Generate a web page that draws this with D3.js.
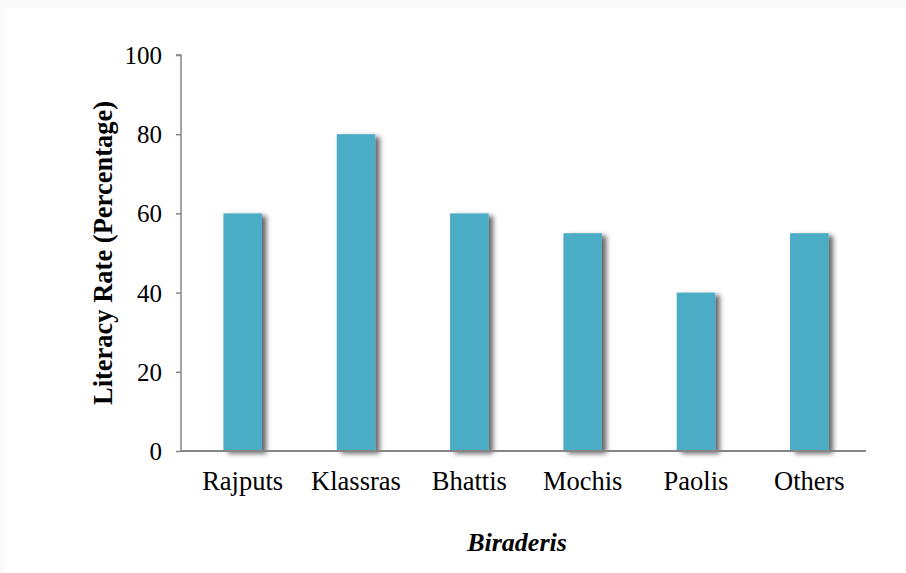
<!DOCTYPE html>
<html><head><meta charset="utf-8">
<script src="https://cdn.jsdelivr.net/npm/d3@7"></script>
<style>html,body{margin:0;padding:0;background:#fafafa;}svg{display:block;}</style>
</head><body>
<svg id="chart" width="906" height="573"></svg>
<script>
const categories = ["Rajputs","Klassras","Bhattis","Mochis","Paolis","Others"];
const values = [60, 80, 60, 55, 40, 55];
const yTicks = [0, 20, 40, 60, 80, 100];
const yTitle = "Literacy Rate (Percentage)";
const xTitle = "Biraderis";

const svg = d3.select("#chart");
svg.append("rect").attr("x",5).attr("y",8).attr("width",901).attr("height",565).attr("fill","#fff");

const defs = svg.append("defs");
const f = defs.append("filter").attr("id","sh").attr("x","-20%").attr("y","-5%").attr("width","160%").attr("height","115%");
f.append("feDropShadow").attr("dx",4.5).attr("dy",2.5).attr("stdDeviation",2.5).attr("flood-color","#000").attr("flood-opacity",0.6);

const FONT = "'Liberation Serif','Times New Roman',serif";
const x0 = 181, x1 = 866, yTop = 55, yBot = 451;
const x = d3.scaleBand().domain(categories).range([x0 + 5, x1]).paddingInner(0.66).paddingOuter(0.33);
const y = d3.scaleLinear().domain([0,100]).range([yBot, yTop]);

svg.append("g").selectAll("rect").data(values).join("rect")
  .attr("x",(d,i)=>x(categories[i]))
  .attr("width",x.bandwidth())
  .attr("y",d=>y(d))
  .attr("height",d=>yBot - y(d))
  .attr("fill","#4BACC6")
  .attr("filter","url(#sh)");

// y axis
const gy = svg.append("g").attr("transform",`translate(${x0},0)`)
  .call(d3.axisLeft(y).tickValues(yTicks).tickSize(5).tickPadding(14));
gy.select(".domain").attr("stroke","#868686").attr("stroke-width",1.5).attr("d",`M-5,${yTop}H0V${yBot}`);
gy.selectAll(".tick line").attr("stroke","#868686").attr("stroke-width",1.5);
gy.selectAll(".tick text").attr("font-family",FONT).attr("font-size",25).attr("fill","#000").attr("dy","0.34em");

// x axis
svg.append("line").attr("x1",x0).attr("x2",x1).attr("y1",yBot).attr("y2",yBot).attr("stroke","#868686").attr("stroke-width",2);
svg.append("g").selectAll("text").data(categories).join("text")
  .attr("x",d=>x(d)+x.bandwidth()/2)
  .attr("y",490)
  .attr("text-anchor","middle")
  .attr("font-family",FONT)
  .attr("font-size",26.5)
  .text(d=>d);

svg.append("text").attr("transform","translate(112,253) rotate(-90)")
  .attr("text-anchor","middle")
  .attr("font-family",FONT)
  .attr("font-weight","bold").attr("font-size",26.5).text(yTitle);

svg.append("text").attr("x",517).attr("y",551)
  .attr("text-anchor","middle")
  .attr("font-family",FONT)
  .attr("font-weight","bold").attr("font-style","italic").attr("font-size",26).text(xTitle);
</script>
</body></html>
